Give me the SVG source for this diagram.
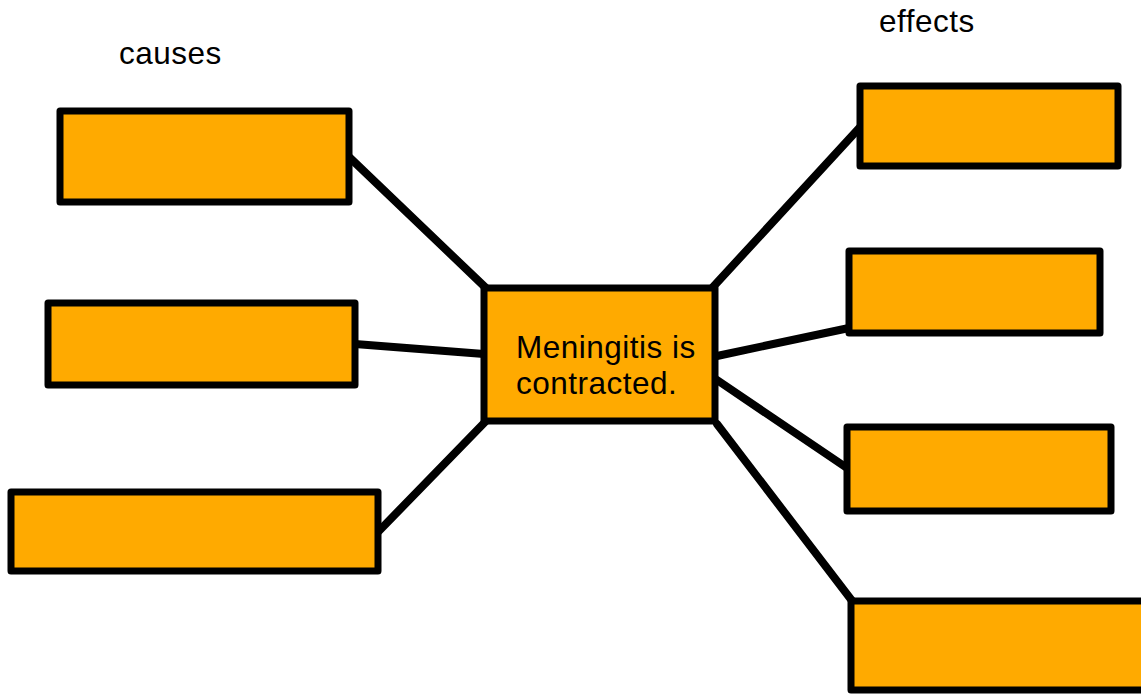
<svg xmlns="http://www.w3.org/2000/svg" width="1141" height="694" viewBox="0 0 1141 694">
<style>
.box{fill:#FFAA00;stroke:#000;stroke-width:7;stroke-linejoin:round}
.ln{stroke:#000;stroke-width:8;stroke-linecap:round;fill:none}
.t{font-family:"Liberation Sans",Arial,sans-serif;font-size:31.5px;letter-spacing:0.5px;fill:#000}
</style>
<rect width="1141" height="694" fill="#fff"/>
<g id="connectors">
<line class="ln" x1="347" y1="155" x2="486" y2="288"/>
<line class="ln" x1="355" y1="344" x2="484" y2="354"/>
<line class="ln" x1="378" y1="532" x2="486" y2="421"/>
<line class="ln" x1="713" y1="287" x2="862" y2="125"/>
<line class="ln" x1="717" y1="356" x2="849" y2="328"/>
<line class="ln" x1="717" y1="380" x2="847" y2="468"/>
<line class="ln" x1="717" y1="424" x2="853" y2="602"/>
</g>
<g id="label-causes"><text class="t" x="119" y="64">causes</text></g>
<g id="label-effects"><text class="t" x="879" y="32">effects</text></g>
<g id="cause1"><rect class="box" x="60" y="111" width="289" height="91"/></g>
<g id="cause2"><rect class="box" x="48" y="303" width="307" height="82"/></g>
<g id="cause3"><rect class="box" x="11" y="492" width="367" height="79"/></g>
<g id="center"><rect class="box" x="484" y="288" width="231" height="133"/>
<text class="t" x="516" y="358">Meningitis is</text>
<text class="t" x="516" y="394">contracted.</text></g>
<g id="effect1"><rect class="box" x="860" y="86" width="258" height="80"/></g>
<g id="effect2"><rect class="box" x="849" y="251" width="251" height="82"/></g>
<g id="effect3"><rect class="box" x="847" y="427" width="264" height="84"/></g>
<g id="effect4"><rect class="box" x="851" y="601" width="295" height="89"/></g>
</svg>
